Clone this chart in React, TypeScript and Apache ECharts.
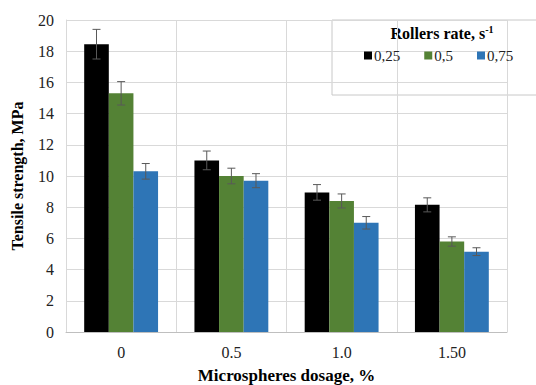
import React, { useEffect, useRef } from "react";
import * as echarts from "echarts";

const categories = ["0", "0.5", "1.0", "1.50"];
const seriesNames = ["0,25", "0,5", "0,75"];
const values025 = [18.45, 11.0, 8.95, 8.15];
const values05 = [15.3, 10.0, 8.4, 5.8];
const values075 = [10.3, 9.7, 7.0, 5.15];
const err025 = [0.95, 0.6, 0.5, 0.45];
const err05 = [0.75, 0.5, 0.45, 0.3];
const err075 = [0.5, 0.45, 0.4, 0.25];
const yTicks = [0, 2, 4, 6, 8, 10, 12, 14, 16, 18, 20];

const colors = ["#000000", "#548235", "#2e75b6"];
const FONT = "Liberation Serif, Times New Roman, serif";
const CAT_GAP = 0.33;

export default function App() {
  const ref = useRef<HTMLDivElement>(null);
  useEffect(() => {
    if (!ref.current) return;
    const chart = echarts.init(ref.current, null, { renderer: "svg" });
    const allValues = [values025, values05, values075];
    const allErr = [err025, err05, err075];

    const barSeries = allValues.map((vals, i) => ({
      name: seriesNames[i],
      type: "bar",
      data: vals,
      barGap: "0%",
      barCategoryGap: CAT_GAP * 100 + "%",
      itemStyle: { color: colors[i] },
    }));

    const errSeries = allValues.map((vals, i) => ({
      type: "custom",
      name: "err" + i,
      data: vals.map((v, j) => [j, v - allErr[i][j], v + allErr[i][j]]),
      z: 10,
      renderItem: (params: any, api: any) => {
        const idx = api.value(0);
        const lo = api.coord([idx, api.value(1)]);
        const hi = api.coord([idx, api.value(2)]);
        const band = api.size([1, 0])[0];
        const bw = (band * (1 - CAT_GAP)) / 3;
        const x = lo[0] + (i - 1) * bw;
        const cap = 4;
        const style = { stroke: "#595959", lineWidth: 1 };
        return {
          type: "group",
          children: [
            { type: "line", shape: { x1: x, y1: lo[1], x2: x, y2: hi[1] }, style },
            { type: "line", shape: { x1: x - cap, y1: lo[1], x2: x + cap, y2: lo[1] }, style },
            { type: "line", shape: { x1: x - cap, y1: hi[1], x2: x + cap, y2: hi[1] }, style },
          ],
        };
      },
    }));

    chart.setOption({
      animation: false,
      backgroundColor: "#ffffff",
      textStyle: { fontFamily: FONT },
      grid: { left: 66, right: 29, top: 20, bottom: 53, outerBoundsMode: "none", containLabel: false },
      xAxis: {
        type: "category",
        data: categories,
        name: "Microspheres dosage, %",
        nameLocation: "middle",
        nameGap: 35,
        nameTextStyle: { fontFamily: FONT, fontSize: 17, fontWeight: "bold", color: "#000" },
        axisLine: { lineStyle: { color: "#bfbfbf" } },
        axisTick: { show: false },
        axisLabel: { fontFamily: FONT, fontSize: 16, color: "#222", margin: 12 },
        splitLine: { show: true, lineStyle: { color: "#d9d9d9" } },
      },
      yAxis: {
        type: "value",
        min: 0,
        max: 20,
        interval: 2,
        name: "Tensile strength, MPa",
        nameLocation: "middle",
        nameGap: 41,
        nameTextStyle: { fontFamily: FONT, fontSize: 16, fontWeight: "bold", color: "#000" },
        axisLine: { show: true, lineStyle: { color: "#d9d9d9" } },
        axisTick: { show: false },
        axisLabel: {
          fontFamily: FONT,
          fontSize: 16,
          color: "#222",
          margin: 12,
          formatter: (v: number) => (yTicks.includes(v) ? String(v) : ""),
        },
        splitLine: { lineStyle: { color: "#d9d9d9" } },
      },
      legend: {
        data: seriesNames,
        left: 359,
        top: 43,
        itemWidth: 8,
        itemHeight: 8,
        itemGap: 24,
        icon: "rect",
        textStyle: { fontFamily: FONT, fontSize: 15, color: "#222", padding: [0, 0, 0, -3] },
      },
      graphic: [
        {
          type: "rect",
          z: -1,
          shape: { x: 332, y: 20, width: 212, height: 75 },
          style: { fill: "#ffffff", stroke: "#c8c8c8", lineWidth: 1 },
        },
        {
          type: "text",
          x: 442,
          y: 33,
          style: {
            text: "{b|Rollers rate, s}{s|-1}",
            align: "center",
            verticalAlign: "middle",
            rich: {
              b: { fontFamily: FONT, fontSize: 16, fontWeight: "bold", fill: "#000" },
              s: { fontFamily: FONT, fontSize: 10, fontWeight: "bold", fill: "#000", verticalAlign: "top", padding: [0, 0, 8, 0] },
            },
          },
        },
      ],
      series: [...barSeries, ...errSeries],
    });
    return () => chart.dispose();
  }, []);
  return <div ref={ref} style={{ position: "fixed", left: 0, top: 0, width: 536, height: 385 }} />;
}
